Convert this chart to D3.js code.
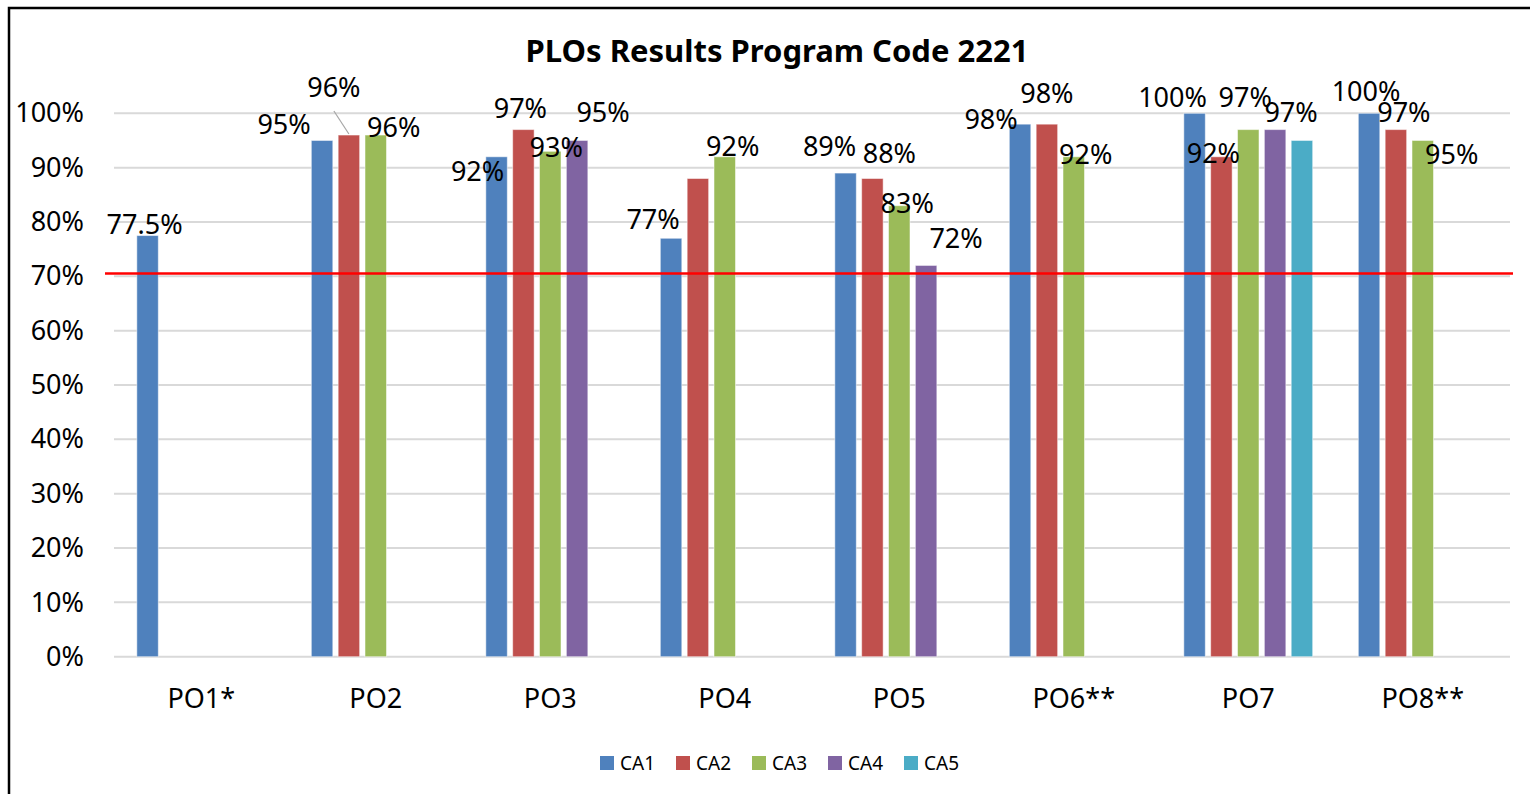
<!DOCTYPE html>
<html>
<head>
<meta charset="utf-8">
<script src="https://cdn.jsdelivr.net/npm/d3@7"></script>
<style>
  body { margin: 0; background: #fff; }
  text { font-family: "Noto Sans", "Open Sans", sans-serif; fill: #000; }
</style>
</head>
<body>
<div id="chart-area"></div>
<script>
// values (percent), null = no bar
const categories = ["PO1*", "PO2", "PO3", "PO4", "PO5", "PO6**", "PO7", "PO8**"];
const seriesNames = ["CA1", "CA2", "CA3", "CA4", "CA5"];
const ca1 = [77.5, 95, 92, 77, 89, 98, 100, 100];
const ca2 = [null, 96, 97, 88, 88, 98, 92, 97];
const ca3 = [null, 96, 93, 92, 83, 92, 97, 95];
const ca4 = [null, null, 95, null, 72, null, 97, null];
const ca5 = [null, null, null, null, null, null, 95, null];
const target = 70.5;
const yTicks = [0, 10, 20, 30, 40, 50, 60, 70, 80, 90, 100];

const colors = ["#4F81BD", "#C0504D", "#9BBB59", "#8064A2", "#4BACC6"];
const seriesValues = [ca1, ca2, ca3, ca4, ca5];

// labels Excel left out, and hand-placed label nudges [dx, dy]
const hiddenLabels = ["PO4|CA2", "PO7|CA5"];
const nudge = {
    "PO1*|CA1": [-3, 0],
    "PO2|CA1": [-38, -4], "PO2|CA2": [-15, -36], "PO2|CA3": [18, 4],
    "PO3|CA1": [-19, 26], "PO3|CA2": [-3, -10], "PO3|CA3": [6, 8], "PO3|CA4": [26, -16],
    "PO4|CA1": [-18, -7], "PO4|CA3": [8, 1],
    "PO5|CA1": [-16, -15], "PO5|CA2": [17, -14], "PO5|CA3": [8, 9], "PO5|CA4": [30, -15],
    "PO6**|CA1": [-29, 7], "PO6**|CA2": [0, -19], "PO6**|CA3": [12, 9],
    "PO7|CA1": [-22, -4], "PO7|CA2": [-8, 8], "PO7|CA3": [-3, -21], "PO7|CA4": [16, -6],
    "PO8**|CA1": [-3, -10], "PO8**|CA2": [8, -6], "PO8**|CA3": [29, 26]
};
const leaders = ["PO2|CA2"];

const W = 1530, H = 794;
const margin = { left: 114, right: 20, top: 113.3, bottom: 137.3 };
const width = W - margin.left - margin.right;
const height = H - margin.top - margin.bottom;

const svg = d3.select("#chart-area")
    .append("svg")
    .attr("width", W)
    .attr("height", H);

// chart border (only top and left are visible in the frame)
svg.append("path")
    .attr("d", "M9,794 V8 H1530")
    .attr("fill", "none")
    .attr("stroke", "#000")
    .attr("stroke-width", 2.5);

const g = svg.append("g")
    .attr("transform", "translate(" + margin.left + "," + margin.top + ")");

const x0 = d3.scaleBand().domain(categories).range([0, width]);
const x1 = d3.scaleBand().domain(seriesNames).range([0, x0.bandwidth()])
    .paddingInner(0.2).paddingOuter(0.85);
const y = d3.scaleLinear().domain([0, 100]).range([height, 0]);

// gridlines
g.selectAll(".grid")
    .data(yTicks)
    .enter().append("line")
    .attr("x1", 0).attr("x2", width)
    .attr("y1", d => y(d)).attr("y2", d => y(d))
    .attr("stroke", "#D9D9D9")
    .attr("stroke-width", 2);

// y axis labels
const yAxis = g.append("g")
    .call(d3.axisLeft(y).tickValues(yTicks).tickFormat(d => d + "%").tickSize(0).tickPadding(30));
yAxis.select(".domain").remove();
yAxis.selectAll("text")
    .attr("font-size", "27px")
    .attr("font-family", "Noto Sans")
    .attr("fill", "#000");

// x axis labels
const xAxis = g.append("g")
    .attr("transform", "translate(0," + height + ")")
    .call(d3.axisBottom(x0).tickSize(0).tickPadding(32));
xAxis.select(".domain").remove();
xAxis.selectAll("text")
    .attr("font-size", "27px")
    .attr("font-family", "Noto Sans")
    .attr("fill", "#000");

// flatten series
const points = [];
seriesValues.forEach((vals, si) => {
    vals.forEach((v, ci) => {
        if (v !== null) points.push({ cat: categories[ci], ser: seriesNames[si], value: v, color: colors[si] });
    });
});

g.selectAll("rect.bar")
    .data(points)
    .enter().append("rect")
    .attr("class", "bar")
    .attr("x", d => x0(d.cat) + x1(d.ser))
    .attr("y", d => y(d.value))
    .attr("width", x1.bandwidth())
    .attr("height", d => height - y(d.value))
    .attr("fill", d => d.color)
    .attr("stroke", "rgba(255,255,255,0.5)")
    .attr("stroke-width", 1);

// target line
g.append("line")
    .attr("x1", -9).attr("x2", width + 3)
    .attr("y1", y(target)).attr("y2", y(target))
    .attr("stroke", "#FF0000")
    .attr("stroke-width", 2.5);

// data labels
const key = d => d.cat + "|" + d.ser;
const labelPts = points.filter(d => hiddenLabels.indexOf(key(d)) < 0);
const lx = d => x0(d.cat) + x1(d.ser) + x1.bandwidth() / 2 + (nudge[key(d)] || [0, 0])[0];
const ly = d => y(d.value) - 2 + (nudge[key(d)] || [0, 0])[1];

g.selectAll("line.leader")
    .data(labelPts.filter(d => leaders.indexOf(key(d)) >= 0))
    .enter().append("line")
    .attr("x1", d => lx(d)).attr("y1", d => ly(d) + 14)
    .attr("x2", d => x0(d.cat) + x1(d.ser) + x1.bandwidth() / 2)
    .attr("y2", d => y(d.value) - 1)
    .attr("stroke", "#A6A6A6")
    .attr("stroke-width", 1.2);

g.selectAll("text.lbl")
    .data(labelPts)
    .enter().append("text")
    .attr("class", "lbl")
    .attr("x", lx)
    .attr("y", ly)
    .attr("text-anchor", "middle")
    .attr("font-size", "27px")
    .text(d => d.value + "%");

// title
svg.append("text")
    .attr("x", 777)
    .attr("y", 62)
    .attr("text-anchor", "middle")
    .attr("font-size", "31px")
    .attr("font-weight", "bold")
    .text("PLOs Results Program Code 2221");

// legend
const legend = svg.append("g").attr("transform", "translate(600,756)");
const items = legend.selectAll("g")
    .data(seriesNames)
    .enter().append("g")
    .attr("transform", (d, i) => "translate(" + (i * 76) + ",0)");
items.append("rect")
    .attr("width", 14).attr("height", 14)
    .attr("fill", (d, i) => colors[i]);
items.append("text")
    .attr("x", 20).attr("y", 14)
    .attr("font-size", "19px")
    .text(d => d);
</script>
</body>
</html>
